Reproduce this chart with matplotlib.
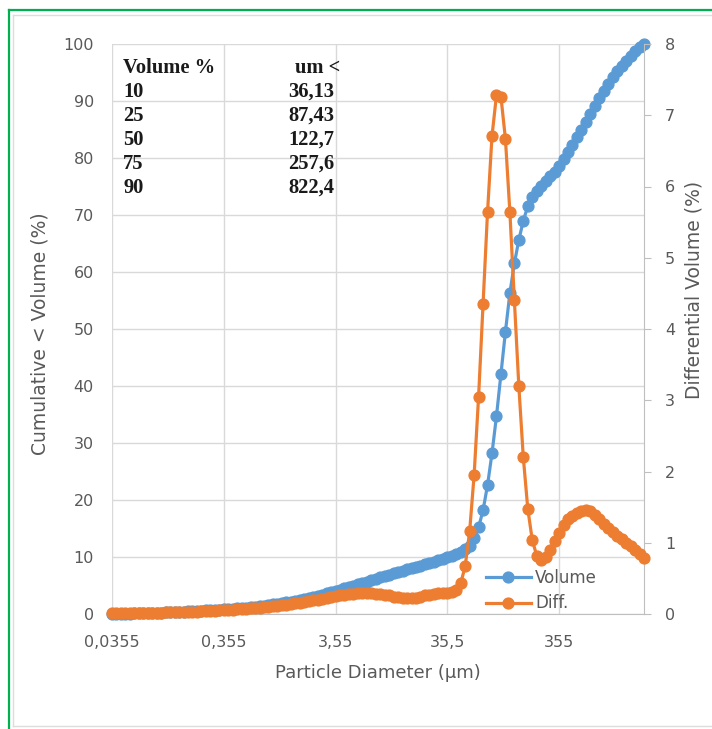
import matplotlib
matplotlib.use("Agg")
import matplotlib.pyplot as plt
from matplotlib.lines import Line2D
import numpy as np

# ---------------- data ----------------
tick_labels = ["0,0355", "0,355", "3,55", "35,5", "355"]
label_interval = 25  # categories between labelled ticks

volume = [
    0.0, 0.02, 0.04, 0.06, 0.08, 0.1, 0.12, 0.14, 0.17, 0.2,
    0.23, 0.26, 0.29, 0.32, 0.35, 0.38, 0.42, 0.46, 0.5, 0.54,
    0.58, 0.62, 0.66, 0.7, 0.75, 0.8, 0.86, 0.92, 0.98, 1.05,
    1.12, 1.2, 1.28, 1.37, 1.46, 1.56, 1.67, 1.78, 1.9, 2.03,
    2.17, 2.32, 2.48, 2.65, 2.83, 3.02, 3.22, 3.42, 3.62, 3.83,
    4.04, 4.26, 4.49, 4.72, 4.96, 5.2, 5.45, 5.7, 5.95, 6.2,
    6.45, 6.69, 6.92, 7.15, 7.37, 7.59, 7.81, 8.03, 8.25, 8.48,
    8.72, 8.96, 9.2, 9.45, 9.7, 9.95, 10.25, 10.56, 10.9, 11.35,
    12.0, 13.3, 15.2, 18.2, 22.6, 28.2, 34.7, 42.1, 49.5, 56.3,
    61.5, 65.6, 69.0, 71.5, 73.1, 74.2, 75.1, 76.0, 76.8, 77.6,
    78.6, 79.8, 81.0, 82.2, 83.6, 85.0, 86.4, 87.8, 89.2, 90.6,
    91.8, 93.0, 94.2, 95.3, 96.2, 97.1, 97.9, 98.7, 99.4, 100.0,
]

diff = [
    0.01, 0.01, 0.01, 0.012, 0.013, 0.014, 0.015, 0.016, 0.017, 0.018,
    0.02, 0.021, 0.022, 0.024, 0.025, 0.027, 0.029, 0.031, 0.033, 0.035,
    0.038, 0.041, 0.044, 0.047, 0.05, 0.054, 0.058, 0.062, 0.066, 0.07,
    0.075, 0.08, 0.085, 0.09, 0.095, 0.10, 0.107, 0.114, 0.122, 0.13,
    0.14, 0.15, 0.16, 0.17, 0.18, 0.19, 0.20, 0.215, 0.23, 0.24,
    0.25, 0.26, 0.27, 0.28, 0.285, 0.29, 0.29, 0.29, 0.29, 0.285,
    0.28, 0.27, 0.26, 0.245, 0.235, 0.225, 0.22, 0.22, 0.23, 0.245,
    0.26, 0.27, 0.28, 0.29, 0.295, 0.30, 0.31, 0.33, 0.43, 0.67,
    1.16, 1.95, 3.05, 4.35, 5.64, 6.71, 7.28, 7.26, 6.67, 5.64,
    4.41, 3.2, 2.2, 1.48, 1.04, 0.82, 0.76, 0.8, 0.9, 1.02,
    1.14, 1.25, 1.33, 1.38, 1.42, 1.45, 1.46, 1.44, 1.39, 1.33,
    1.27, 1.21, 1.15, 1.1, 1.05, 1.0, 0.95, 0.9, 0.84, 0.79,
]

table_header = ["Volume %", "um <"]
table_pct = ["10", "25", "50", "75", "90"]
table_um = ["36,13", "87,43", "122,7", "257,6", "822,4"]

left_ticks = list(range(0, 101, 10))
right_ticks = list(range(0, 9))

# ---------------- figure ----------------
W, H = 712, 729
fig = plt.figure(figsize=(W / 100, H / 100), dpi=100)
fig.patch.set_facecolor("white")

def fx(px):
    return px / W

def fy(py):
    return 1 - py / H

# frame decorations
fig.add_artist(Line2D([fx(9), fx(9)], [fy(729), fy(10)], color="#00B050", lw=1.6))
fig.add_artist(Line2D([fx(9), fx(712)], [fy(10), fy(10)], color="#00B050", lw=1.6))
fig.add_artist(Line2D([fx(13), fx(13)], [fy(726), fy(15)], color="#DDDDDD", lw=1.0))
fig.add_artist(Line2D([fx(13), fx(712)], [fy(15), fy(15)], color="#DDDDDD", lw=1.0))
fig.add_artist(Line2D([fx(13), fx(712)], [fy(726), fy(726)], color="#DDDDDD", lw=1.0))

left, right, top, bottom = 112, 644, 44, 614
ax = fig.add_axes([fx(left), fy(bottom), fx(right) - fx(left), fy(top) - fy(bottom)])
ax2 = ax.twinx()

x = np.arange(len(volume))
blue = "#5B9BD5"
orange = "#ED7D31"
tick_color = "#595959"
grid_color = "#D9D9D9"

l1, = ax.plot(x, volume, color=blue, marker="o", ms=7.8, lw=2.3, zorder=3,
              clip_on=False, label="Volume")
l2, = ax2.plot(x, diff, color=orange, marker="o", ms=7.8, lw=2.3, zorder=3,
               clip_on=False, label="Diff.")

ax.set_xlim(0, len(volume) - 1)
ax.set_ylim(0, 100)
ax2.set_ylim(0, 8)

ax.set_xticks(np.arange(len(tick_labels)) * label_interval)
ax.set_xticklabels(tick_labels)
ax.set_yticks(left_ticks)
ax2.set_yticks(right_ticks)

ax.grid(True, color=grid_color, lw=1.0)
ax.set_axisbelow(True)

for sp in ["top", "left", "right"]:
    ax.spines[sp].set_visible(False)
ax.spines["bottom"].set_color("#BFBFBF")
for sp in ["top", "left", "bottom"]:
    ax2.spines[sp].set_visible(False)
ax2.spines["right"].set_color("#BFBFBF")

ax.tick_params(axis="both", length=0, labelsize=11.5, labelcolor=tick_color)
ax.tick_params(axis="y", pad=13)
ax.tick_params(axis="x", pad=15)
ax2.tick_params(axis="y", length=5, color="#BFBFBF", direction="out",
                labelsize=11.5, labelcolor=tick_color, pad=10)

# axis titles
fig.text(fx(378), fy(673), "Particle Diameter (µm)", ha="center", va="center",
         fontsize=13, color=tick_color)
fig.text(fx(40), fy(334), "Cumulative < Volume (%)", ha="center", va="center",
         rotation=90, fontsize=13.5, color=tick_color)
fig.text(fx(694), fy(290), "Differential Volume (%)", ha="center", va="center",
         rotation=90, fontsize=13.5, color=tick_color)

# table text
serif = dict(family="Liberation Serif", weight="bold", fontsize=14.8, color="#1a1a1a")
row_y = [68, 92, 116, 140, 164, 188]
fig.text(fx(123), fy(row_y[0]), table_header[0], ha="left", va="center", **serif)
fig.text(fx(340), fy(row_y[0]), table_header[1], ha="right", va="center", **serif)
for k, (p, u) in enumerate(zip(table_pct, table_um)):
    fig.text(fx(123), fy(row_y[k + 1]), p, ha="left", va="center", **serif)
    fig.text(fx(334), fy(row_y[k + 1]), u, ha="right", va="center", **serif)

# legend
leg = ax2.legend(handles=[l1, l2], loc="upper left",
                 bbox_to_anchor=(fx(486), fy(569)), bbox_transform=fig.transFigure,
                 frameon=False, fontsize=12, handlelength=2.7, handletextpad=0.25,
                 labelspacing=0.45, borderpad=0, borderaxespad=0)
for t in leg.get_texts():
    t.set_color(tick_color)

fig.savefig("out.png", dpi=100)
